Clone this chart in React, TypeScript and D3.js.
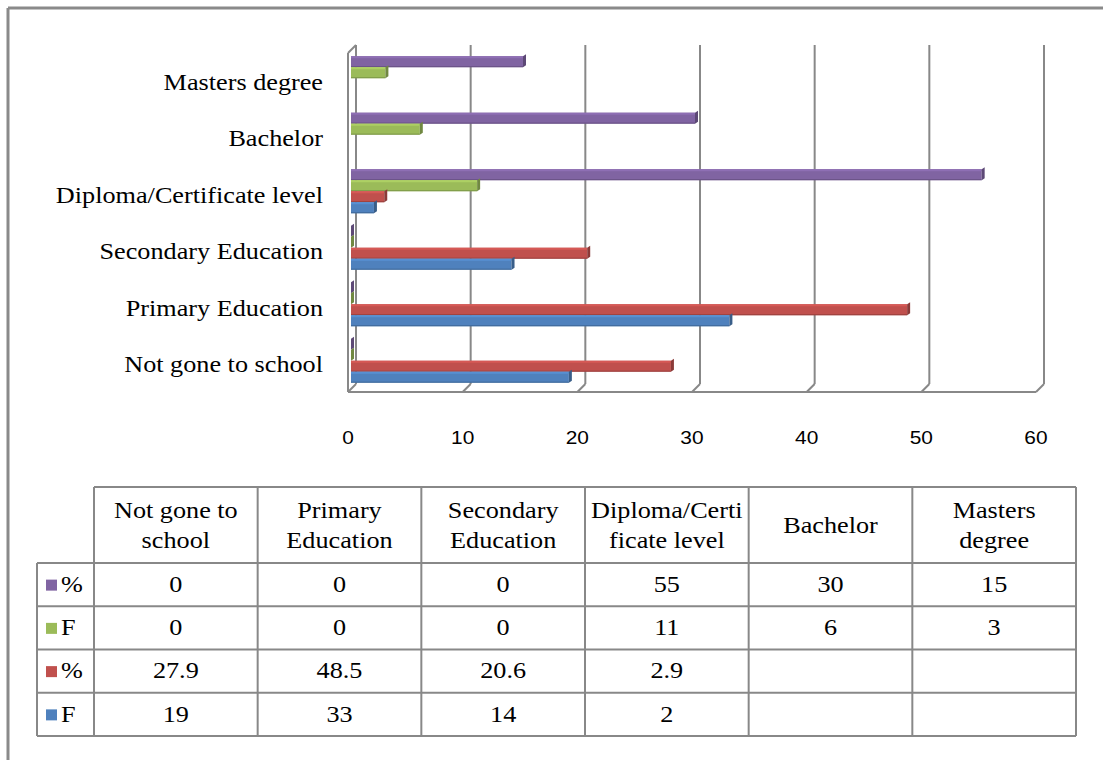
import React from "react";
import * as d3 from "d3";

const categories = [
  "Not gone to school",
  "Primary Education",
  "Secondary Education",
  "Diploma/Certificate level",
  "Bachelor",
  "Masters degree",
];
const headerLines = [
  ["Not gone to", "school"],
  ["Primary", "Education"],
  ["Secondary", "Education"],
  ["Diploma/Certi", "ficate level"],
  ["Bachelor"],
  ["Masters", "degree"],
];
// series in table order (top to bottom)
const seriesNames = ["%", "F", "%", "F"];
const seriesColors = ["#8064A2", "#9BBB59", "#C0504D", "#4F81BD"];
const pct2: (number | null)[] = [0, 0, 0, 55, 30, 15];
const f2: (number | null)[] = [0, 0, 0, 11, 6, 3];
const pct1: (number | null)[] = [27.9, 48.5, 20.6, 2.9, null, null];
const f1: (number | null)[] = [19, 33, 14, 2, null, null];
const seriesValues = [pct2, f2, pct1, f1];
const xTicks = [0, 10, 20, 30, 40, 50, 60];

const SERIF = "'Liberation Serif', 'Times New Roman', serif";
const SANS = "'Liberation Sans', Arial, sans-serif";
const SX = 1.14;
const GRID = "#888888";

function T({ x, y, children, anchor = "middle", size = 23, family = SERIF, sx = SX }: any) {
  return (
    <text
      transform={`translate(${x},${y}) scale(${sx},1)`}
      textAnchor={anchor}
      dominantBaseline="middle"
      fontFamily={family}
      fontSize={size}
      fill="#000"
    >
      {children}
    </text>
  );
}

export default function App() {
  const W = 1103, H = 760;
  const x = d3.scaleLinear().domain([0, 60]).range([348, 1036]);
  const dx = 8, dy = -8;
  const floorY = 392;
  const topY = 45;
  const y = d3
    .scaleBand<string>()
    .domain([...categories].reverse())
    .range([50, 389])
    .paddingInner(0.22)
    .paddingOuter(0.11);
  const inner = d3
    .scaleBand<number>()
    .domain([0, 1, 2, 3])
    .range([0, y.bandwidth()]);

  // table geometry
  const tLeft = 37, tLegendRight = 94, tRight = 1076;
  const tTop = 487, tHeadBottom = 563, tBottom = 736;
  const colX = d3.scaleBand<number>().domain(d3.range(6)).range([tLegendRight, tRight]);
  const rowY = d3.scaleBand<number>().domain(d3.range(4)).range([tHeadBottom, tBottom]);

  const bars: any[] = [];
  categories.forEach((c, ci) => {
    seriesValues.forEach((vals, si) => {
      const v = vals[ci];
      if (v === null) return;
      const by = (y(c) as number) + (inner(si) as number);
      const h = inner.bandwidth();
      const xs = x(0) + 3;
      const xe = x(v) + 3;
      const col = d3.color(seriesColors[si])!;
      const dark = col.darker(0.9).formatHex();
      const light = col.brighter(0.3).formatHex();
      bars.push(
        <g key={`${ci}-${si}`}>
          <rect x={xs} y={by} width={Math.max(0, xe - xs)} height={h} fill={seriesColors[si]} />
          <rect x={xs} y={by} width={Math.max(0, xe - xs)} height={2} fill={light} />
          <rect x={xs} y={by + h - 1.2} width={Math.max(0, xe - xs)} height={1.2} fill={dark} opacity={0.6} />
          <polygon
            points={`${xe},${by} ${xe + 3},${by - 2} ${xe + 3},${by + h - 2} ${xe},${by + h}`}
            fill={dark}
          />
        </g>
      );
    });
  });

  return (
    <svg width={W} height={H} style={{ position: "absolute", left: 0, top: 0 }}>
      <rect x={0} y={0} width={W} height={H} fill="#fff" />
      {/* outer frame */}
      <line x1={8} y1={8} x2={W} y2={8} stroke="#8a8a8a" strokeWidth={3} />
      <line x1={8} y1={8} x2={8} y2={H} stroke="#8a8a8a" strokeWidth={3} />

      {/* back wall gridlines */}
      {xTicks.map((t) => (
        <g key={t}>
          <line x1={x(t) + dx} y1={topY} x2={x(t) + dx} y2={floorY + dy} stroke={GRID} strokeWidth={2} />
          <line x1={x(t)} y1={floorY} x2={x(t) + dx} y2={floorY + dy} stroke={GRID} strokeWidth={2} />
        </g>
      ))}
      {/* left wall front edge */}
      <line x1={x(0)} y1={topY - dy} x2={x(0)} y2={floorY} stroke={GRID} strokeWidth={2} />
      <line x1={x(0)} y1={topY - dy} x2={x(0) + dx} y2={topY} stroke={GRID} strokeWidth={2} />
      {/* floor front edge */}
      <line x1={x(0)} y1={floorY} x2={x(60)} y2={floorY} stroke={GRID} strokeWidth={2} />

      {bars}

      {/* category labels */}
      {categories.map((c) => (
        <T key={c} x={323} y={(y(c) as number) + y.bandwidth() / 2 + 6} anchor="end">
          {c}
        </T>
      ))}
      {/* x tick labels */}
      {xTicks.map((t) => (
        <T key={t} x={x(t)} y={439} family={SANS} size={19} sx={1.1}>
          {t}
        </T>
      ))}

      {/* table */}
      <g stroke={GRID} strokeWidth={2} fill="none">
        <line x1={tLegendRight} y1={tTop} x2={tRight} y2={tTop} />
        <line x1={tLeft} y1={tHeadBottom} x2={tRight} y2={tHeadBottom} />
        {d3.range(4).map((r) => (
          <line key={r} x1={tLeft} y1={(rowY(r) as number) + rowY.bandwidth()} x2={tRight} y2={(rowY(r) as number) + rowY.bandwidth()} />
        ))}
        <line x1={tLeft} y1={tHeadBottom} x2={tLeft} y2={tBottom} />
        <line x1={tLegendRight} y1={tTop} x2={tLegendRight} y2={tBottom} />
        {d3.range(6).map((c) => (
          <line key={c} x1={(colX(c) as number) + colX.bandwidth()} y1={tTop} x2={(colX(c) as number) + colX.bandwidth()} y2={tBottom} />
        ))}
      </g>
      {headerLines.map((lines, ci) => {
        const cx = (colX(ci) as number) + colX.bandwidth() / 2;
        const cy = (tTop + tHeadBottom) / 2 + 3;
        return lines.map((ln, li) => (
          <T key={`${ci}-${li}`} x={cx} y={cy + (li - (lines.length - 1) / 2) * 30}>
            {ln}
          </T>
        ));
      })}
      {seriesValues.map((vals, si) => {
        const cy = (rowY(si) as number) + rowY.bandwidth() / 2 + 2;
        return (
          <g key={si}>
            <rect x={46} y={cy - 7} width={11} height={11} fill={seriesColors[si]} />
            <T x={61} y={cy} anchor="start">
              {seriesNames[si]}
            </T>
            {vals.map((v, ci) =>
              v === null ? null : (
                <T key={ci} x={(colX(ci) as number) + colX.bandwidth() / 2} y={cy}>
                  {String(v)}
                </T>
              )
            )}
          </g>
        );
      })}
    </svg>
  );
}
